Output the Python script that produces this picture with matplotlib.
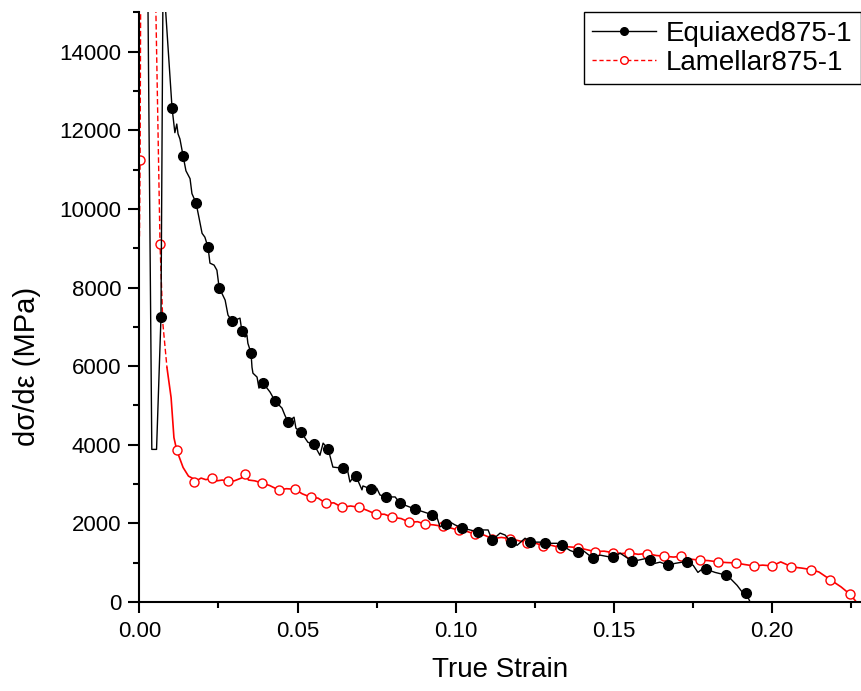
import matplotlib
matplotlib.use('Agg')
import matplotlib.pyplot as plt
from matplotlib.lines import Line2D
from matplotlib.ticker import MultipleLocator, FormatStrFormatter

plt.rcParams['font.family'] = ['Liberation Sans', 'DejaVu Sans']

# Equiaxed875-1 curve (strain, dsigma/deps in MPa)
eq_x = [0.0026, 0.0039, 0.0054, 0.0068, 0.0075, 0.0079, 0.0103, 0.0112, 0.0118, 0.0122, 0.0128,
        0.0138, 0.0147, 0.0160, 0.0166, 0.0179, 0.0188, 0.0198, 0.0207, 0.0217, 0.0223, 0.0236,
        0.0245, 0.0252, 0.0271, 0.0280, 0.0293, 0.0318, 0.0324, 0.0334, 0.0340, 0.0343, 0.0353,
        0.0356, 0.0359, 0.0372, 0.0378, 0.0391, 0.0413, 0.0429, 0.0451, 0.0460, 0.0470, 0.0489,
        0.0495, 0.0511, 0.0533, 0.0552, 0.0571, 0.0581, 0.0597, 0.0612, 0.0644, 0.0657, 0.0666,
        0.0676, 0.0685, 0.0704, 0.0707, 0.0733, 0.0751, 0.0761, 0.0780, 0.0809, 0.0824, 0.0856,
        0.0872, 0.0910, 0.0926, 0.0941, 0.0951, 0.0970, 0.0983, 0.0998, 0.1021, 0.1046, 0.1071,
        0.1087, 0.1103, 0.1116, 0.1141, 0.1157, 0.1174, 0.1182, 0.1195, 0.1220, 0.1236, 0.1267,
        0.1283, 0.1293, 0.1321, 0.1337, 0.1362, 0.1378, 0.1388, 0.1403, 0.1435, 0.1457, 0.1489,
        0.1498, 0.1521, 0.1559, 0.1578, 0.1606, 0.1616, 0.1631, 0.1647, 0.1673, 0.1695, 0.1717,
        0.1733, 0.1752, 0.1767, 0.1783, 0.1793, 0.1821, 0.1856, 0.1869, 0.1891, 0.1907, 0.1919,
        0.1932]
eq_y = [16000, 3880, 3880, 7240, 16500, 15500, 12570, 11940, 12160, 11910, 11780,
        11350, 10970, 10770, 10390, 10150, 9790, 9380, 9280, 9020, 8620, 8570,
        8440, 8000, 7680, 7300, 7140, 7220, 6890, 6740, 6790, 6580, 6330,
        5970, 5820, 5720, 5440, 5570, 5340, 5110, 4930, 4750, 4580, 4700,
        4420, 4320, 4060, 4010, 3730, 4040, 3890, 3430, 3400, 3400, 3050,
        3170, 3200, 2850, 2950, 2870, 2890, 2720, 2670, 2670, 2510, 2410,
        2360, 2260, 2210, 2160, 1910, 1990, 2030, 1960, 1880, 1830, 1780,
        1830, 1830, 1570, 1750, 1700, 1530, 1490, 1440, 1620, 1520, 1520,
        1500, 1490, 1490, 1440, 1310, 1260, 1270, 1310, 1110, 1190, 1140,
        1140, 1240, 1030, 1060, 1110, 1060, 980, 1010, 930, 980, 1010,
        1010, 930, 750, 850, 830, 750, 680, 600, 420, 250, 220,
        0]

eq_mx = [0.0068, 0.0103, 0.0138, 0.0179, 0.0217, 0.0252, 0.0293, 0.0324, 0.0353, 0.0391, 0.0429,
         0.0470, 0.0511, 0.0552, 0.0597, 0.0644, 0.0685, 0.0733, 0.0780, 0.0824, 0.0872, 0.0926,
         0.0970, 0.1021, 0.1071, 0.1116, 0.1174, 0.1236, 0.1283, 0.1337, 0.1388, 0.1435, 0.1498,
         0.1559, 0.1616, 0.1673, 0.1733, 0.1793, 0.1856, 0.1919]
eq_my = [7240, 12570, 11350, 10150, 9020, 8000, 7140, 6890, 6330, 5570, 5110,
         4580, 4320, 4010, 3890, 3400, 3200, 2870, 2670, 2510, 2360, 2210,
         1990, 1880, 1780, 1570, 1530, 1520, 1500, 1440, 1270, 1110, 1140,
         1030, 1060, 930, 1010, 830, 680, 220]

# Lamellar875-1: initial spike (dashed) and the rest of the curve
la_x0 = [0.0, 0.0002, 0.0004, 0.0050, 0.0052, 0.0065, 0.0074, 0.0087]
la_y0 = [9300, 11250, 16000, 16000, 15000, 9100, 7080, 5960]

la_x = [0.0087, 0.0100, 0.0109, 0.0118, 0.0138, 0.0155, 0.0169, 0.0173, 0.0195, 0.0210, 0.0228,
        0.0245, 0.0262, 0.0281, 0.0300, 0.0322, 0.0335, 0.0345, 0.0365, 0.0388, 0.0412, 0.0441,
        0.0465, 0.0492, 0.0515, 0.0543, 0.0565, 0.0590, 0.0615, 0.0641, 0.0668, 0.0695, 0.0720,
        0.0749, 0.0775, 0.0800, 0.0828, 0.0854, 0.0880, 0.0905, 0.0930, 0.0959, 0.0985, 0.1010,
        0.1037, 0.1063, 0.1090, 0.1117, 0.1145, 0.1171, 0.1198, 0.1225, 0.1250, 0.1276, 0.1303,
        0.1330, 0.1358, 0.1387, 0.1414, 0.1441, 0.1470, 0.1497, 0.1525, 0.1550, 0.1578, 0.1605,
        0.1635, 0.1661, 0.1690, 0.1714, 0.1742, 0.1772, 0.1800, 0.1830, 0.1858, 0.1886, 0.1915,
        0.1944, 0.1972, 0.2002, 0.2029, 0.2045, 0.2063, 0.2095, 0.2124, 0.2150, 0.2185, 0.2220,
        0.2249, 0.2268]
la_y = [5960, 5200, 4180, 3855, 3420, 3200, 3140, 3050, 3150, 3110, 3143,
        3080, 3100, 3067, 3080, 3150, 3245, 3100, 3080, 3024, 2960, 2846,
        2880, 2864, 2750, 2660, 2640, 2508, 2520, 2406, 2440, 2406, 2330,
        2228, 2230, 2152, 2120, 2025, 2040, 1974, 1960, 1923, 1880, 1822,
        1790, 1720, 1700, 1611, 1640, 1611, 1560, 1509, 1500, 1433, 1440,
        1382, 1400, 1382, 1330, 1280, 1290, 1255, 1230, 1245, 1210, 1230,
        1180, 1161, 1140, 1161, 1090, 1060, 1050, 1017, 1000, 991, 950,
        915, 935, 915, 1017, 960, 889, 860, 823, 760, 569, 380,
        188, 0]

la_mx = [0.0002, 0.0065, 0.0118, 0.0173, 0.0228, 0.0281, 0.0335, 0.0388, 0.0441, 0.0492, 0.0543,
         0.0590, 0.0641, 0.0695, 0.0749, 0.0800, 0.0854, 0.0905, 0.0959, 0.1010, 0.1063, 0.1117,
         0.1171, 0.1225, 0.1276, 0.1330, 0.1387, 0.1441, 0.1497, 0.1550, 0.1605, 0.1661, 0.1714,
         0.1772, 0.1830, 0.1886, 0.1944, 0.2002, 0.2063, 0.2124, 0.2185, 0.2249]
la_my = [11250, 9100, 3855, 3050, 3143, 3067, 3245, 3024, 2846, 2864, 2660,
         2508, 2406, 2406, 2228, 2152, 2025, 1974, 1923, 1822, 1720, 1611,
         1611, 1509, 1433, 1382, 1382, 1280, 1255, 1245, 1230, 1161, 1161,
         1060, 1017, 991, 915, 915, 889, 823, 569, 188]

fig = plt.figure(figsize=(8.61, 6.91), dpi=100)
ax = fig.add_axes([0.162, 0.129, 0.838, 0.853])

# red first so the black curve sits on top where they cross
ax.plot(la_x0, la_y0, color='red', lw=1.0, ls=(0, (4, 2)))
ax.plot(la_x, la_y, color='red', lw=1.2)
ax.plot(la_mx, la_my, ls='none', marker='o', ms=6.5, mfc='white', mec='red', mew=1.0)

ax.plot(eq_x, eq_y, color='black', lw=1.0)
ax.plot(eq_mx, eq_my, ls='none', marker='o', ms=7, color='black')

ax.set_xlim(0, 0.2283)
ax.set_ylim(0, 15000)

ax.spines['top'].set_visible(False)
ax.spines['right'].set_visible(False)
for s in ['left', 'bottom']:
    ax.spines[s].set_linewidth(1.5)

ax.xaxis.set_major_locator(MultipleLocator(0.05))
ax.xaxis.set_minor_locator(MultipleLocator(0.025))
ax.xaxis.set_major_formatter(FormatStrFormatter('%.2f'))
ax.yaxis.set_major_locator(MultipleLocator(2000))
ax.yaxis.set_minor_locator(MultipleLocator(1000))
ax.tick_params(which='major', direction='out', length=8, width=1.5, labelsize=16)
ax.tick_params(axis='x', which='major', pad=6)
ax.tick_params(axis='y', which='major', pad=5)
ax.tick_params(which='minor', direction='out', length=4.5, width=1.5)

ax.set_xlabel('True Strain', fontsize=20)
ax.xaxis.set_label_coords(0.5, -0.093)
ax.set_ylabel('d\u03c3/d\u03b5 (MPa)', fontsize=21)
ax.yaxis.set_label_coords(-0.137, 0.40)

handles = [
    Line2D([], [], color='black', lw=1.0, marker='o', ms=5.5),
    Line2D([], [], color='red', lw=1.0, ls=(0, (3, 2)), marker='o', ms=5.5, mfc='white', mec='red'),
]
leg = ax.legend(handles, ['Equiaxed875-1', 'Lamellar875-1'], loc='upper right',
                bbox_to_anchor=(1.0, 1.0), fontsize=20, fancybox=False, framealpha=1,
                edgecolor='black', handlelength=2.3, handletextpad=0.35,
                borderaxespad=0.0, labelspacing=0.1, borderpad=0.3)
leg.get_frame().set_linewidth(1.0)

fig.savefig('out.png', dpi=100)
